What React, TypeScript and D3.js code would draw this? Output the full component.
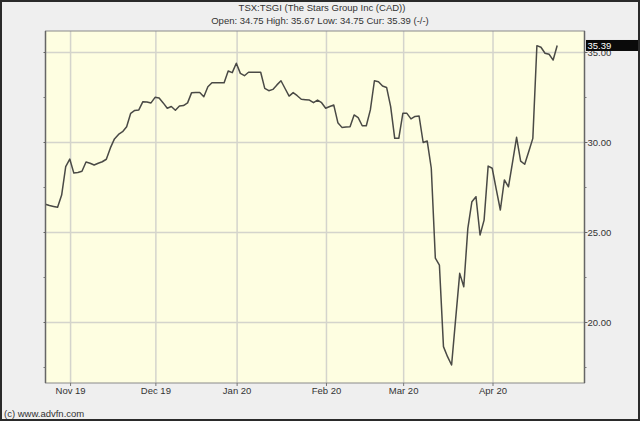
import React from "react";
import * as d3 from "d3";

const titleLine1 = "TSX:TSGI (The Stars Group Inc (CAD))";
const titleLine2 = "Open: 34.75 High: 35.67 Low: 34.75 Cur: 35.39 (-/-)";
const credit = "(c) www.advfn.com";
const currentLabel = "35.39";
const currentValue = 35.39;

// daily closes, trading-day index 0 = 24 Oct 2019
const closes: number[] = [
  26.57, 26.5, 26.45, 26.4, 27.08, 28.66, 29.08, 28.3, 28.33, 28.4,
  28.92, 28.85, 28.75, 28.85, 28.93, 29.07, 29.7, 30.2, 30.45, 30.6,
  30.88, 31.62, 31.78, 31.81, 32.27, 32.25, 32.2, 32.51, 32.47, 32.2,
  31.9, 32.0, 31.79, 32.03, 32.05, 32.2, 32.77, 32.78, 32.78, 32.54,
  33.1, 33.32, 33.32, 33.32, 33.32, 33.97, 33.88, 34.4, 33.84, 33.71,
  33.9, 33.9, 33.9, 33.9, 33.01, 32.88, 32.95, 33.2, 33.43, 33.0,
  32.58, 32.77, 32.6, 32.4, 32.38, 32.36, 32.21, 32.36, 32.21, 31.9,
  32.0, 32.08, 31.1, 30.84, 30.86, 30.88, 31.53, 31.38, 30.93, 30.93,
  31.81, 33.43, 33.38, 33.14, 33.06, 31.99, 30.23, 30.23, 31.62, 31.62,
  31.31, 31.45, 31.47, 30.0, 30.08, 28.57, 23.57, 23.19, 18.66, 18.1,
  17.64, 20.2, 22.73, 21.99, 25.23, 26.71, 26.99, 24.86, 25.69, 28.69,
  28.57, 27.4, 26.25, 27.92, 27.54, 28.9, 30.29, 28.97, 28.79, 29.5,
  30.23, 35.38, 35.29, 34.96, 34.9, 34.58, 35.39,
];

// month boundaries (trading-day index of first session) and labels
const monthIndex: number[] = [6, 27, 47, 69, 88, 110];
const monthLabels: string[] = ["Nov 19", "Dec 19", "Jan 20", "Feb 20", "Mar 20", "Apr 20"];

const majorTicks: number[] = [20, 25, 30, 35];
const minorTicks: number[] = [17.5, 22.5, 27.5, 32.5];

const W = 640;
const H = 421;
const plotL = 45.5;
const plotR = 584.5;
const plotT = 31;
const plotB = 383;
const FONT = "'Liberation Sans', Arial, sans-serif";

export default function App() {
  const x = d3.scaleLinear().domain([0, closes.length - 1]).range([45.4, 557.2]);
  const y = d3.scaleLinear().domain([20, 35]).range([322.5, 52.5]);

  const line = d3
    .line<number>()
    .x((_, i) => x(i))
    .y((d) => y(d));

  return (
    <svg
      width={W}
      height={H}
      style={{ position: "absolute", left: 0, top: 0, display: "block" }}
      fontFamily={FONT}
    >
      <rect x={0} y={0} width={W} height={H} fill="#efefef" />
      {/* title */}
      <text x={322} y={8} textAnchor="middle" dy="0.35em" fontSize={9.5} fill="#333">
        {titleLine1}
      </text>
      <text x={320} y={21} textAnchor="middle" dy="0.35em" fontSize={9.5} fill="#333">
        {titleLine2}
      </text>

      {/* plot area */}
      <rect x={plotL} y={plotT} width={plotR - plotL} height={plotB - plotT} fill="#fefee1" />

      {/* horizontal gridlines */}
      {majorTicks.map((v) => (
        <line key={"hg" + v} x1={plotL} x2={plotR} y1={y(v)} y2={y(v)} stroke="#d4d4cc" strokeWidth={1.5} />
      ))}
      {/* vertical gridlines */}
      {monthIndex.map((m) => (
        <line key={"vg" + m} x1={x(m) + 0.8} x2={x(m) + 0.8} y1={plotT} y2={plotB} stroke="#d4d4cc" strokeWidth={1.5} />
      ))}

      {/* price line */}
      <path d={line(closes) || ""} fill="none" stroke="#4a4a46" strokeWidth={1.5} strokeLinejoin="round" />

      {/* plot border */}
      <rect x={plotL} y={plotT} width={plotR - plotL} height={plotB - plotT} fill="none" stroke="#8a8a8a" strokeWidth={1} />
      <line x1={plotL} x2={plotL} y1={plotT} y2={plotB} stroke="#666" strokeWidth={1.5} />
      <line x1={plotR} x2={plotR} y1={plotT} y2={plotB} stroke="#666" strokeWidth={1.5} />

      {/* y ticks */}
      {majorTicks.map((v) => (
        <g key={"yt" + v}>
          <line x1={plotR} x2={plotR + 3} y1={y(v)} y2={y(v)} stroke="#666" />
          <line x1={plotL - 2} x2={plotL} y1={y(v)} y2={y(v)} stroke="#666" />
          <text x={587.5} y={y(v)} dy="0.35em" fontSize={9.5} fill="#333">
            {v.toFixed(2)}
          </text>
        </g>
      ))}
      {minorTicks.map((v) => (
        <g key={"ym" + v}>
          <line x1={plotR} x2={plotR + 2} y1={y(v)} y2={y(v)} stroke="#777" />
          <line x1={plotL - 2} x2={plotL} y1={y(v)} y2={y(v)} stroke="#777" />
        </g>
      ))}

      {/* x ticks and labels */}
      {monthIndex.map((m, i) => (
        <g key={"xt" + m}>
          <line x1={x(m) + 0.8} x2={x(m) + 0.8} y1={plotB} y2={plotB + 3} stroke="#777" />
          <text x={x(m) + 0.8} y={391} textAnchor="middle" dy="0.35em" fontSize={9.5} fill="#333">
            {monthLabels[i]}
          </text>
        </g>
      ))}

      {/* current value box */}
      <rect x={586} y={y(currentValue) - 5.5} width={W - 586} height={11} fill="#0a0a0a" />
      <text x={587.5} y={y(currentValue)} dy="0.35em" fontSize={9.5} fill="#ffffff">
        {currentLabel}
      </text>

      {/* credit */}
      <text x={4} y={414} dy="0.35em" fontSize={9.5} fill="#333">
        {credit}
      </text>

      {/* outer frame */}
      <rect x={1} y={1} width={W - 2} height={H - 2} fill="none" stroke="#2a2a2a" strokeWidth={2} />
    </svg>
  );
}
